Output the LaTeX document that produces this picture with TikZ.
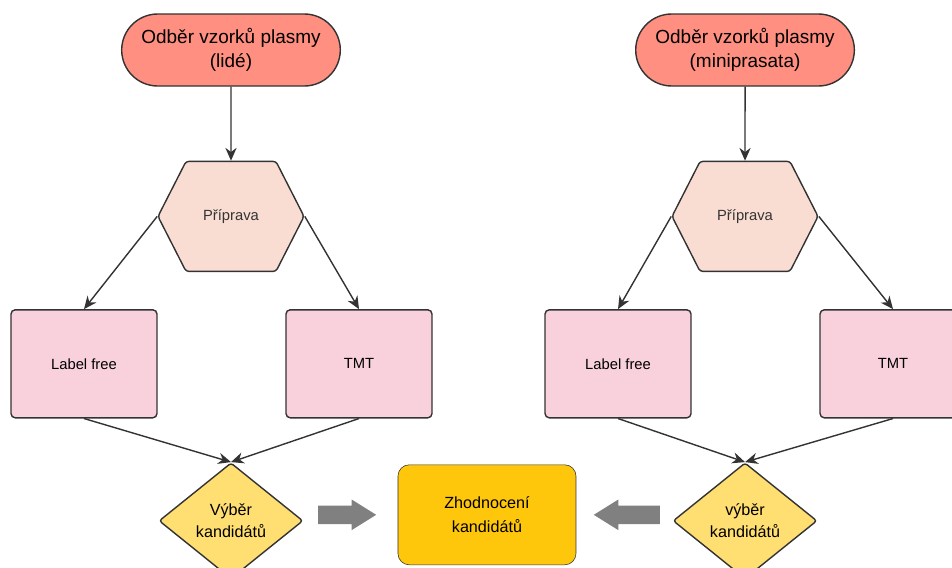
\documentclass[tikz,border=0pt]{standalone}
\usepackage{fontspec}
\setmainfont{Liberation Sans}
\usepackage{tikz}
\usetikzlibrary{shapes.geometric, shapes.misc, shapes.symbols, shapes.arrows, arrows.meta, positioning}
\definecolor{salmon}{HTML}{FF8F80}
\definecolor{peach}{HTML}{F9DDD2}
\definecolor{rosy}{HTML}{F8D1DD}
\definecolor{sand}{HTML}{FFDE72}
\definecolor{amber}{HTML}{FFC70B}
\definecolor{edge}{HTML}{333333}
\tikzset{
	sample/.style={
		rounded rectangle, 
		minimum width=5.7cm, 
		minimum height=1.8cm, 
		align=center, 
		draw=edge, 
		line width=1pt,
		fill=salmon,
		font=\fontsize{13.5}{17}\selectfont
	},
	prep/.style={
		signal, 
		signal to=east and west,
		signal pointer angle=126,
		minimum width=3.65cm, 
		minimum height=2.75cm, 
		rounded corners=2pt,
		draw=edge, 
		line width=1pt,
		fill=peach,
		text=edge,
		font=\fontsize{10.5}{12}\selectfont
	},
	method/.style={
		rectangle, 
		rounded corners=3pt, 
		minimum width=3.65cm, 
		minimum height=2.7cm, 
		draw=edge, 
		line width=1pt,
		fill=rosy,
		font=\fontsize{10.5}{12}\selectfont
	},
	choice/.style={
		diamond, 
		minimum width=3.6cm, 
		minimum height=2.9cm, 
		rounded corners=2pt,
		align=center, 
		draw=edge, 
		line width=1pt,
		fill=sand,
		font=\fontsize{11.5}{15.5}\selectfont,
		inner sep=1pt
	},
	result/.style={
		rectangle, 
		rounded corners=8pt, 
		minimum width=4.45cm, 
		minimum height=2.5cm, 
		align=center, 
		draw=edge, 
		fill=amber,
		font=\fontsize{11.5}{17}\selectfont
	},
	bigarrow/.style={
		single arrow, 
		single arrow tip angle=64,
		single arrow head extend=0.15cm,
		inner sep=0.225cm,
		fill=gray
	},
	arrow/.style={line width=1pt,draw=edge,->,>={Stealth[length=3.2mm,width=2.8mm]}}
}

\begin{document}
\begin{tikzpicture}[node distance=1.85cm]
	\useasboundingbox (-5.775,1.25) rectangle (18.025,-12.95);
	\clip (-5.775,1.25) rectangle (18.025,-12.95);
	% lide
	\node (sample1) [sample] {Odběr vzorků plasmy\\(lidé)};
	\node (prep1) [prep, below=of sample1] {Příprava};
	\node (free1) [method, below=0.925cm of prep1, xshift=-3.675cm] {Label free};
	\node (tmt1) [method, below=0.925cm of prep1, xshift=3.2cm] {TMT};
	\node (sel1) [choice, below=4.75cm of prep1] {Výběr\\kandidátů};
	% miniprasata
	\node (sample2) [sample, right=7.35cm of sample1] {Odběr vzorků plasmy\\(miniprasata)};
	\node (prep2) [prep, below=of sample2] {Příprava};
	\node (free2) [method, below=0.925cm of prep2, xshift=-3.175cm] {Label free};
	\node (tmt2) [method, below=0.925cm of prep2, xshift=3.7cm] {TMT};
	\node (sel2) [choice, below=4.75cm of prep2] {výběr\\kandidátů};
	% zhodnoceni
	\node (eval) [result, right=2.35cm of sel1, yshift=0.15cm] {Zhodnocení\\kandidátů};
	\node (push1) [bigarrow, minimum height=1.45cm, left=0.525cm of eval] {};
	\node (push2) [bigarrow, minimum height=1.65cm, shape border rotate=180, right=0.425cm of eval] {};
	
	\draw [arrow] (sample1) -- (prep1);
	\draw [arrow] (prep1.west) -- (free1.north);
	\draw [arrow] (prep1.east) -- (tmt1.north);
	\draw [arrow] (free1.south) -- (sel1.north);
	\draw [arrow] (tmt1.south) -- (sel1.north);
	\draw [arrow] (sample2) -- (prep2);
	\draw [arrow] (prep2.west) -- (free2.north);
	\draw [arrow] (prep2.east) -- (tmt2.north);
	\draw [arrow] (free2.south) -- (sel2.north);
	\draw [arrow] (tmt2.south) -- (sel2.north);
\end{tikzpicture}
\end{document}
